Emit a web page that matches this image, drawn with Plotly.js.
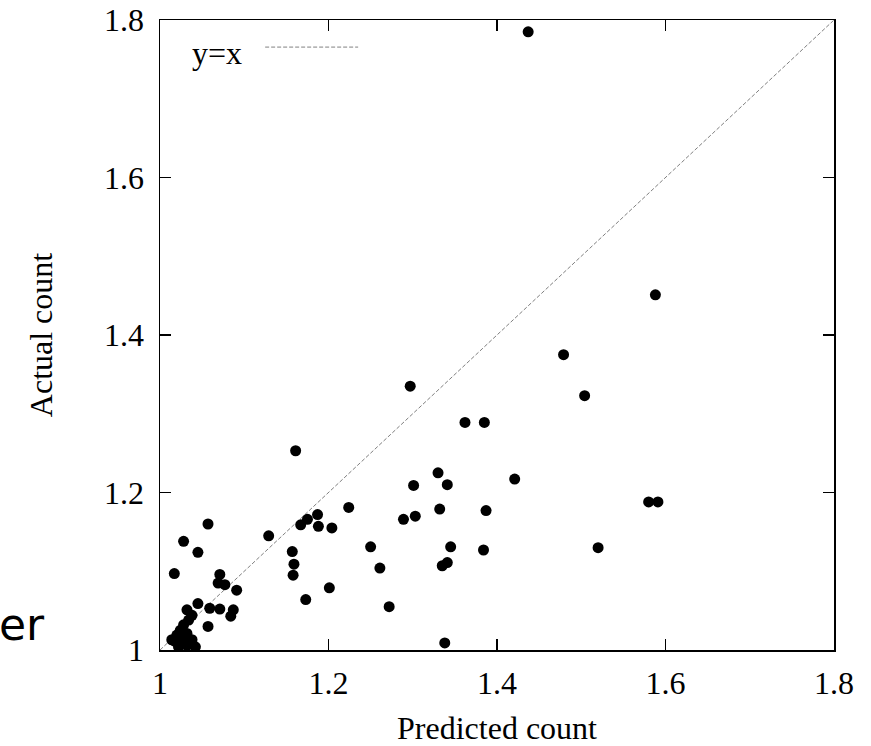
<!DOCTYPE html>
<html>
<head>
<meta charset="utf-8">
<script src="https://cdn.plot.ly/plotly-3.0.1.min.js"></script>
<style>html,body{margin:0;padding:0;background:#fff;}#chart{width:871px;height:746px;}</style>
</head>
<body>
<div id="chart"></div>
<script>
const predicted = [1.437,1.588,1.479,1.504,1.297,1.362,1.385,1.161,1.330,1.421,1.341,1.301,1.224,1.580,1.591,1.332,1.387,1.303,1.289,1.187,1.175,1.167,1.188,1.204,1.129,1.250,1.345,1.384,1.520,1.157,1.159,1.158,1.341,1.335,1.261,1.201,1.173,1.272,1.338,1.057,1.028,1.045,1.017,1.071,1.069,1.077,1.091,1.045,1.059,1.071,1.087,1.084,1.032,1.057,1.038,1.034,1.028,1.024,1.020,1.032,1.026,1.038,1.018,1.032,1.042,1.022,1.014];
const actual = [1.785,1.451,1.375,1.323,1.335,1.289,1.289,1.253,1.225,1.217,1.210,1.209,1.181,1.188,1.188,1.179,1.177,1.170,1.166,1.172,1.166,1.159,1.157,1.155,1.145,1.131,1.131,1.127,1.130,1.125,1.109,1.095,1.111,1.107,1.104,1.079,1.064,1.055,1.009,1.160,1.138,1.124,1.097,1.096,1.085,1.083,1.076,1.059,1.053,1.052,1.051,1.043,1.051,1.030,1.044,1.038,1.032,1.025,1.019,1.021,1.015,1.013,1.011,1.006,1.004,1.004,1.013];
const diagX = [1, 1.8];
const diagY = [1, 1.8];
const tickVals = [1, 1.2, 1.4, 1.6, 1.8];
const tickText = ['1', '1.2', '1.4', '1.6', '1.8'];
const legendLabel = 'y=x';
const xTitle = 'Predicted count';
const yTitle = 'Actual count';
const strayText = 'er';

const serif = 'Liberation Serif, Times New Roman, serif';
const traces = [
  {x: diagX, y: diagY, mode: 'lines', type: 'scatter', line: {color: '#808080', width: 1, dash: '4px,2px'}, showlegend: false, hoverinfo: 'skip'},
  {x: predicted, y: actual, mode: 'markers', type: 'scatter', marker: {color: '#000', size: 11, line: {width: 0}}, showlegend: false}
];
const axisCommon = {
  range: [1, 1.8], tickvals: tickVals, ticktext: tickText,
  ticks: 'inside', ticklen: 11, tickwidth: 1.2, tickcolor: '#000',
  showline: true, linecolor: '#000', linewidth: 1.5, mirror: 'ticks',
  showgrid: false, zeroline: false,
  tickfont: {family: serif, size: 32, color: '#000'}
};
const layout = {
  width: 871, height: 746,
  margin: {l: 160, r: 37, t: 20, b: 96},
  paper_bgcolor: '#fff', plot_bgcolor: '#fff',
  xaxis: Object.assign({}, axisCommon, {title: {text: xTitle, font: {family: serif, size: 32, color: '#000'}, standoff: 22}, ticklabelstandoff: 4}),
  yaxis: Object.assign({}, axisCommon, {title: {text: yTitle, font: {family: serif, size: 32, color: '#000'}, standoff: 42}, ticklabelstandoff: 8}),
  annotations: [
    {text: legendLabel, xref: 'paper', yref: 'paper', x: 0.045, y: 0.948, xanchor: 'left', yanchor: 'middle', showarrow: false, font: {family: serif, size: 32, color: '#000'}},
    {text: strayText, xref: 'paper', yref: 'paper', x: -0.168, y: -0.003, xanchor: 'right', yanchor: 'bottom', showarrow: false, font: {family: 'DejaVu Sans', size: 44, color: '#000'}}
  ],
  shapes: [
    {type: 'line', xref: 'paper', yref: 'paper', x0: 0.156, x1: 0.294, y0: 0.957, y1: 0.957, line: {color: '#808080', width: 1, dash: '4px,2px'}}
  ]
};
Plotly.newPlot('chart', traces, layout, {displayModeBar: false, staticPlot: true});
</script>
</body>
</html>
